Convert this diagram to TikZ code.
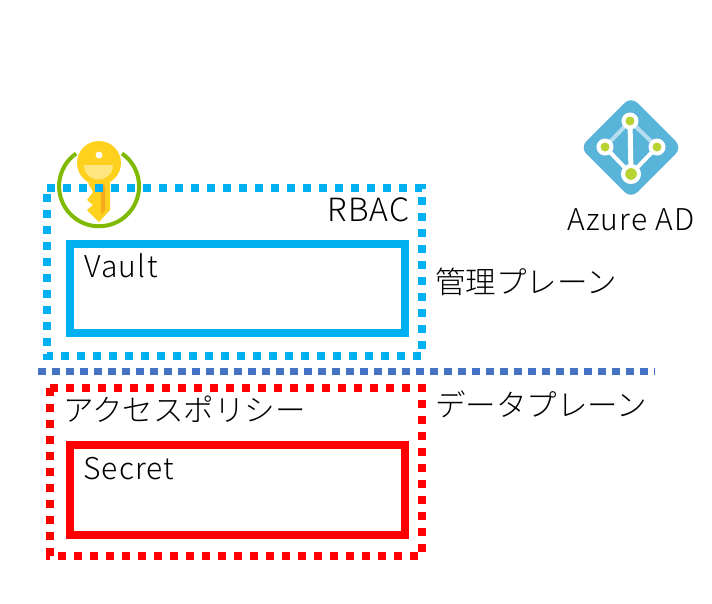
\documentclass[tikz,border=0pt]{standalone}
\usepackage{fontspec}
\setmainfont{Noto Sans CJK JP Light}
\newfontfamily\latinfont[LetterSpace=4]{Noto Sans CJK JP Light}
\usetikzlibrary{positioning,calc}

\definecolor{vaultblue}{HTML}{00B0F0}
\definecolor{planeblue}{HTML}{4472C4}
\definecolor{secretred}{HTML}{FF0000}
\definecolor{adblue}{HTML}{59B4D9}
\definecolor{adlight}{HTML}{B5DDF0}
\definecolor{adgreen}{HTML}{B8D432}
\definecolor{keygold}{HTML}{FFD11F}
\definecolor{keypale}{HTML}{FFE57F}
\definecolor{keydark}{HTML}{F7A81B}
\definecolor{ringgreen}{HTML}{7FB900}

\begin{document}
\begin{tikzpicture}[
    x=1pt, y=-1pt,
    label/.style={font=\fontsize{30.5}{30.5}\selectfont, text=black, inner sep=0pt},
    latinlabel/.style={font=\fontsize{30}{30}\selectfont\latinfont, text=black, inner sep=0pt},
    dotbox/.style={line width=8pt, dash pattern=on 8pt off 8pt},
    solidbox/.style={rectangle, draw, line width=8pt, minimum width=335pt, minimum height=89pt, inner sep=0pt},
    adnode/.style={circle, draw=white, fill=adgreen, line width=4pt, minimum size=13pt, inner sep=0pt}
]
\useasboundingbox (0,0) rectangle (712,603);

% Key
\draw[ringgreen, line width=4pt] (122,153.5) arc[start angle=-55, end angle=235, radius=40];
\fill[keygold] (88,183) -- (110,178) -- (110,210) -- (99,222) -- (87,210) -- (93,205) -- (87,200) -- (93,192) -- cycle;
\fill[keydark] (101,185) -- (105,185) -- (105,210) -- (101,215) -- cycle;
\fill[keygold] (99,163) circle[radius=22];
\fill[keypale] (84,165) -- (113,165) arc[start angle=0, end angle=180, radius=14.5] -- cycle;
\fill[white] (99,155) circle[radius=3.5];

% Azure AD
\fill[adblue, rounded corners=9pt] (631,96.5) -- (682,147.5) -- (631,198.5) -- (580,147.5) -- cycle;
\draw[adlight, line width=4pt] (630,121) -- (605,147);
\draw[adlight, line width=4pt] (630,121) -- (657,147);
\draw[white, line width=5pt] (630,121) -- (631,174);
\draw[white, line width=4pt] (605,147) -- (631,174);
\draw[white, line width=4pt] (657,147) -- (631,174);
\node[adnode] (adtop) at (630,121) {};
\node[adnode] (adleft) at (605,147) {};
\node[adnode] (adright) at (657,147) {};
\node[adnode, minimum size=16pt] (adbottom) at (631,174) {};
\node[latinlabel, anchor=base] (adlabel) at (631,230) {Azure AD};

% Management plane
\draw[vaultblue, dotbox] (47,188) -- (422,188) -- (422,356) -- (47,356) -- cycle;
\node[solidbox, draw=vaultblue] (vault) at (237.5,288.5) {};
\node[latinlabel, font=\fontsize{32}{32}\selectfont\latinfont, anchor=base east] (rbac) at (410,221) {RBAC};
\node[latinlabel, anchor=base west] (vaultlabel) at (84,277) {Vault};
\node[label, anchor=base west] (mgmtplane) at (435,293) {管理プレーン};

% Plane border
\draw[planeblue, line width=7pt, dash pattern=on 8pt off 6pt] (38,371.5) -- (655,371.5);

% Data plane
\draw[secretred, dotbox] (50,388) -- (422,388) -- (422,556) -- (50,556) -- cycle;
\node[solidbox, draw=secretred, minimum height=90pt] (secret) at (237.5,490) {};
\node[label, anchor=base west] (policy) at (63,421) {アクセスポリシー};
\node[latinlabel, anchor=base west] (secretlabel) at (83,479) {Secret};
\node[label, anchor=base west] (dataplane) at (435,416) {データプレーン};

\end{tikzpicture}
\end{document}
